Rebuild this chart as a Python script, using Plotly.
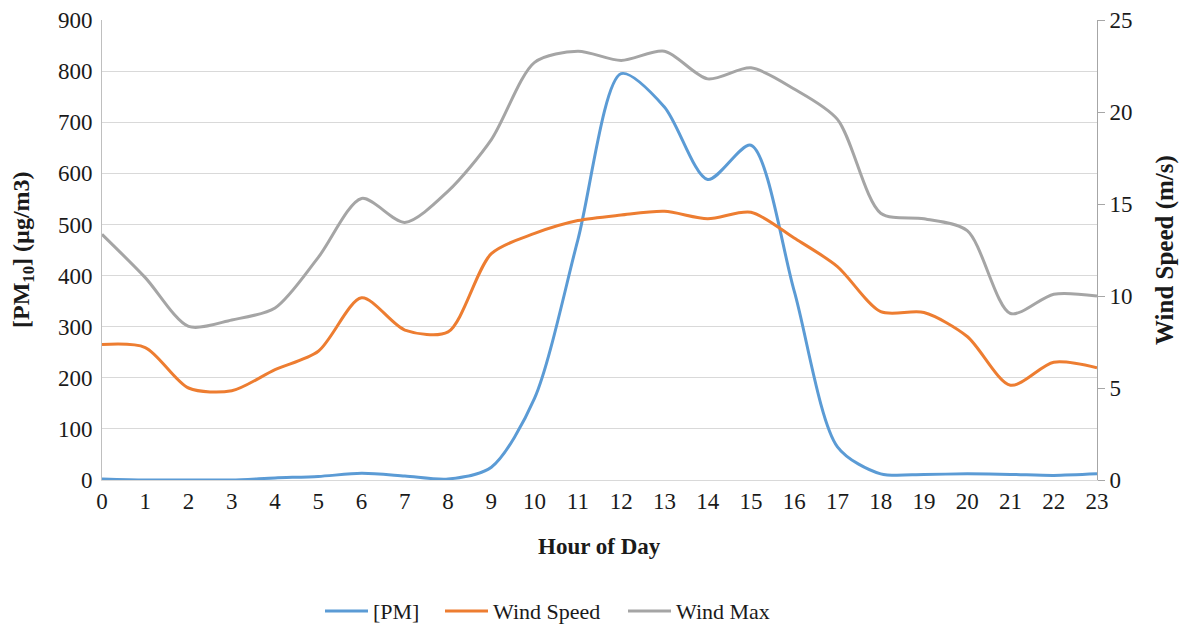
import plotly.graph_objects as go

hours = list(range(24))
hour_labels = [str(h) for h in hours]

pm = [2, 0, 0, 0, 4, 7, 13, 8, 2, 25, 160, 470, 795, 730, 588, 655,
      370, 65, 12, 11, 12, 11, 9, 12]
wind_speed = [7.36, 7.2, 5.0, 4.85, 6.0, 7.0, 9.9, 8.15, 8.05, 12.3, 13.4, 14.1,
              14.4, 14.6, 14.2, 14.55, 13.15, 11.6, 9.15, 9.1, 7.8, 5.15, 6.4, 6.1]
wind_max = [13.35, 11.0, 8.35, 8.7, 9.35, 12.1, 15.3, 14.0, 15.7, 18.5, 22.7, 23.3,
            22.8, 23.3, 21.8, 22.4, 21.25, 19.6, 14.5, 14.2, 13.55, 9.05, 10.1, 10.0]

FONT = "Liberation Serif, Times New Roman, serif"
INK = "#1a1a1a"
fig = go.Figure()
fig.add_trace(go.Scatter(x=hours, y=pm, name="[PM]", mode="lines", legend="legend",
                         line=dict(color="#5B9BD5", width=3, shape="spline", smoothing=0.8)))
fig.add_trace(go.Scatter(x=hours, y=wind_speed, name="Wind Speed", mode="lines", yaxis="y2",
                         legend="legend2",
                         line=dict(color="#ED7D31", width=3, shape="spline", smoothing=0.8)))
fig.add_trace(go.Scatter(x=hours, y=wind_max, name="Wind Max", mode="lines", yaxis="y2",
                         legend="legend3",
                         line=dict(color="#A5A5A5", width=3, shape="spline", smoothing=0.8)))

# page has an 8px body margin: figure drawn 8px right/down of the window origin
W, H = 1180, 623
L, T = 94, 12
R = W - (1097 - 8)
B = H - (480 - 8)
PW = W - L - R


def px_x(page_x):
    return (page_x - 8 - L) / PW


tf = dict(family=FONT, size=23, color=INK)
lf = dict(family=FONT, size=22, color=INK)
leg = dict(orientation="h", y=-0.285, yanchor="middle", xanchor="left", font=lf,
           itemwidth=43, bgcolor="rgba(0,0,0,0)")
fig.update_layout(
    width=W, height=H,
    margin=dict(l=L, r=R, t=T, b=B, autoexpand=False),
    paper_bgcolor="white", plot_bgcolor="white",
    font=dict(family=FONT, size=22, color=INK),
    showlegend=True,
    legend=dict(leg, x=px_x(320)),
    legend2=dict(leg, x=px_x(440)),
    legend3=dict(leg, x=px_x(623)),
    xaxis=dict(range=[0, 23], tickmode="array", tickvals=hours, ticktext=hour_labels,
               showgrid=False, zeroline=False, showline=True, linecolor="#d9d9d9",
               linewidth=1, ticks="", tickfont=tf, automargin=False),
    yaxis=dict(range=[0, 900], dtick=100, showgrid=True, gridcolor="#d9d9d9", gridwidth=1,
               zeroline=False, showline=True, linecolor="#bfbfbf", ticks="",
               tickfont=tf, automargin=False, ticklabelstandoff=4),
    yaxis2=dict(range=[0, 25], dtick=5, overlaying="y", side="right", showgrid=False,
                zeroline=False, showline=True, linecolor="#a6a6a6", ticks="outside",
                ticklen=7, tickcolor="#a6a6a6", tickfont=tf, automargin=False),
    annotations=[
        dict(text="<b>Hour of Day</b>", xref="paper", yref="paper", x=0.5, y=-0.145,
             xanchor="center", yanchor="middle", showarrow=False,
             font=dict(family=FONT, size=23, color=INK)),
        dict(text="<b>[PM<sub>10</sub>] (µg/m3)</b>", xref="paper", yref="paper",
             x=px_x(23), y=0.5, xanchor="center", yanchor="middle", textangle=-90,
             showarrow=False, font=dict(family=FONT, size=24, color=INK)),
        dict(text="<b>Wind Speed (m/s)</b>", xref="paper", yref="paper",
             x=px_x(1165), y=0.5, xanchor="center", yanchor="middle", textangle=-90,
             showarrow=False, font=dict(family=FONT, size=25, color=INK)),
    ],
)

fig.write_html("out.html")
